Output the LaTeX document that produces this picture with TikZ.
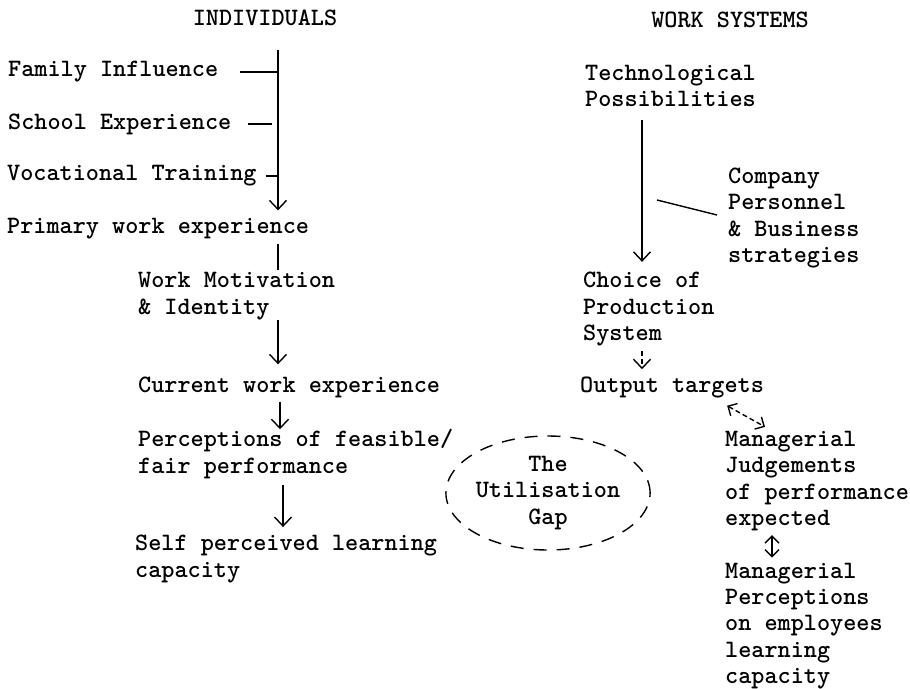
\documentclass[tikz,border=0pt]{standalone}
\usepackage{fontspec}
\usetikzlibrary{arrows.meta,shapes.geometric}

\def \textSize {\ttfamily\bfseries\fontsize{25}{26.4}\selectfont}
\def \lineWidth {1.4pt}

\begin{document}
\begin{tikzpicture}[x=1pt,y=-1pt,
    txt/.style={font=\textSize, inner sep=0pt, align=left, anchor=west},
    flow/.style={line width=\lineWidth, -{Straight Barb[length=9pt,width=17pt]}},
    both/.style={line width=\lineWidth, {Straight Barb[length=7pt,width=14pt]}-{Straight Barb[length=7pt,width=14pt]}},
    stroke/.style={line width=\lineWidth}]
  \useasboundingbox (0,0) rectangle (910,688);

  % headings
  \node[txt, anchor=center] (ind) at (265,18) {INDIVIDUALS};
  \node[txt, anchor=center] (ws) at (730,20) {WORK SYSTEMS};

  % individuals
  \node[txt] (fam) at (8,72) {Family Influence};
  \node[txt] (sch) at (8,124) {School Experience};
  \node[txt] (voc) at (7,176) {Vocational Training};
  \node[txt] (prim) at (7,229) {Primary work experience};
  \node[txt] (mot) at (138,296) {Work Motivation\\\& Identity};
  \node[txt] (cur) at (138,387) {Current work experience};
  \node[txt] (perc) at (138,454) {Perceptions of feasible/\\fair performance};
  \node[txt] (self) at (135,559) {Self perceived learning\\capacity};

  \coordinate (spine) at (278,50);
  \draw[flow] (spine) -- (prim.north -| spine) [shorten >=8pt];
  \draw[stroke] ([xshift=22pt]fam.east) -- (fam.east -| spine);
  \draw[stroke] ([xshift=16pt]sch.east) -- ([xshift=-6pt]sch.east -| spine);
  \draw[stroke] ([xshift=9pt]voc.east) -- (voc.east -| spine);
  \draw[stroke, shorten <=4pt, shorten >=2pt] (prim.south -| spine) -- (mot.north -| spine);
  \draw[flow, shorten >=12pt] (mot.south -| spine) -- (cur.north -| spine);
  \draw[flow, shorten <=4pt] ([xshift=2pt]cur.south -| spine) -- ([xshift=2pt]perc.north -| spine);
  \draw[flow, shorten <=6pt, shorten >=8pt] ([xshift=5pt]perc.south -| spine) -- ([xshift=5pt]self.north -| spine);

  % work systems
  \node[txt] (tech) at (585,86) {Technological\\Possibilities};
  \node[txt] (comp) at (728,218) {Company\\Personnel\\\& Business\\strategies};
  \node[txt] (choice) at (583,309) {Choice of\\Production\\System};
  \node[txt] (out) at (580,388) {Output targets};
  \node[txt] (judg) at (725,481) {Managerial\\Judgements\\of performance\\expected};
  \node[txt] (mperc) at (725,626) {Managerial\\Perceptions\\on employees\\learning\\capacity};

  \coordinate (pole) at (642,120);
  \coordinate (join) at (657,200);
  \draw[flow, shorten >=10pt] (pole) -- (choice.north -| pole);
  \draw[stroke] ([xshift=-11pt,yshift=3pt]comp.west) -- (join);
  \draw[flow, dashed, dash pattern=on 5pt off 3pt, shorten <=5pt, shorten >=8pt] (choice.south -| pole) -- (out.north -| pole);
  \draw[both, dashed, dash pattern=on 5pt off 3pt] ([xshift=-37pt,yshift=-7pt]out.south east) -- ([xshift=40pt,yshift=4pt]judg.north west);
  \coordinate (link) at (772,0);
  \draw[both, shorten <=4pt, shorten >=5pt] (judg.south -| link) -- (mperc.north -| link);

  % the gap
  \node[ellipse, draw, line width=\lineWidth, dash pattern=on 13pt off 10pt,
        minimum width=180pt, minimum height=114pt, inner sep=0pt,
        font=\textSize, align=center] (gap) at (548,493) {The\\Utilisation\\Gap};
\end{tikzpicture}
\end{document}
